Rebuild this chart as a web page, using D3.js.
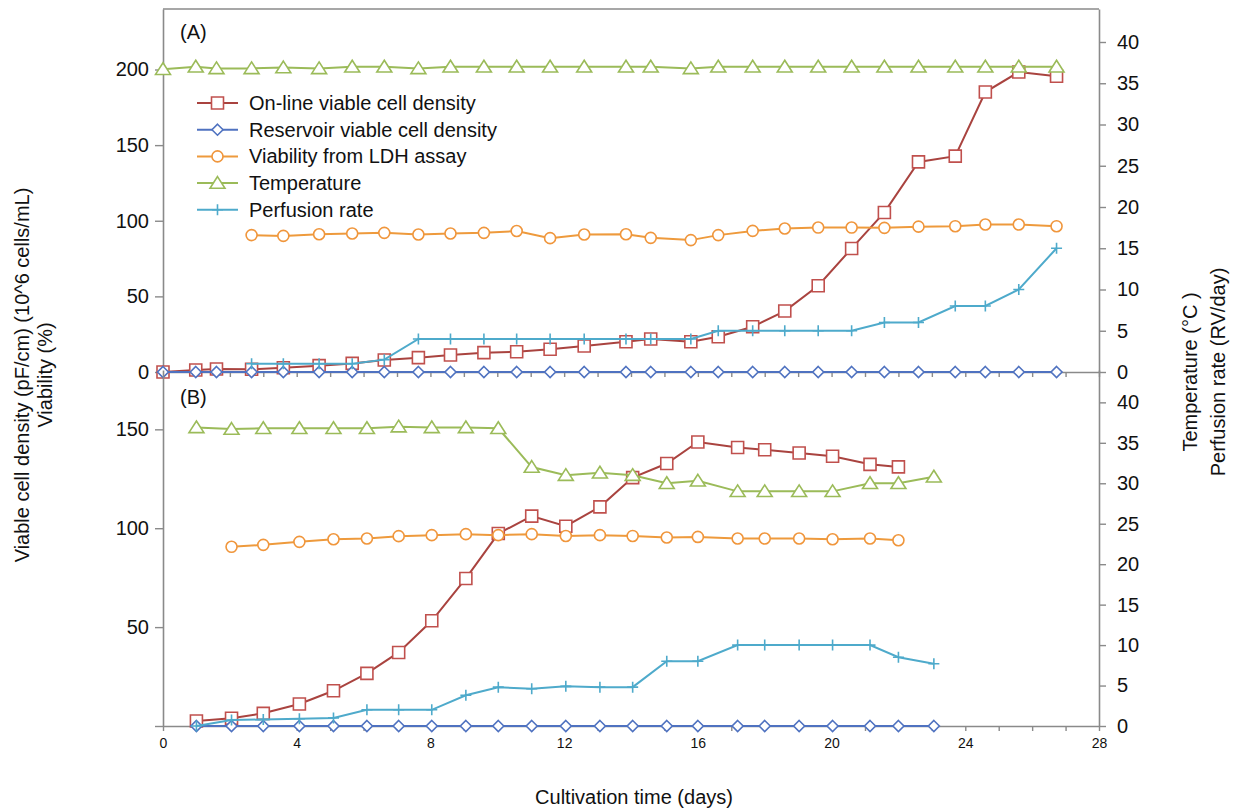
<!DOCTYPE html>
<html>
<head>
<meta charset="utf-8">
<script src="https://cdn.jsdelivr.net/npm/d3@7"></script>
<style>
  body { margin: 0; background: #fff; }
  svg { font-family: "Liberation Sans", Arial, sans-serif; }
</style>
</head>
<body>
<div id="chart"></div>
<script>
// ---- data ----
// (A) sampling days
const daysA = [0, 0.98, 1.6, 2.65, 3.6, 4.67, 5.66, 6.62, 7.64, 8.6, 9.6, 10.58, 11.58, 12.6,
  13.85, 14.59, 15.79, 16.61, 17.64, 18.6, 19.6, 20.6, 21.58, 22.6, 23.7, 24.6, 25.6, 26.73]
const daysAssayA = [2.65, 3.6, 4.67, 5.66, 6.62, 7.64, 8.6, 9.6, 10.58, 11.58, 12.6, 13.85,
  14.59, 15.79, 16.61, 17.64, 18.6, 19.6, 20.6, 21.58, 22.6, 23.7, 24.6, 25.6, 26.73]
const onlineA = [0, 1.3, 2.0, 1.8, 2.8, 4.2, 5.7, 7.9, 9.5, 11.2, 12.8, 13.4, 15.0, 17.2,
  20.0, 21.8, 20.0, 23.3, 29.9, 40.3, 57.0, 81.7, 105.5, 138.9, 142.7, 185.1, 198.3, 195.5]
const reservoirA = [0, 0, 0, 0, 0, 0, 0, 0, 0, 0, 0, 0, 0, 0, 0, 0, 0, 0, 0, 0, 0, 0, 0, 0, 0, 0, 0, 0]
const viabilityA = [90.5, 90.0, 91.1, 91.6, 92.0, 90.9, 91.6, 92.0, 93.2, 88.5, 90.9, 91.1,
  88.7, 87.2, 90.5, 93.3, 94.9, 95.5, 95.5, 95.3, 96.1, 96.4, 97.5, 97.5, 96.4]
const temperatureA = [36.7, 37.0, 36.8, 36.8, 36.9, 36.8, 37.0, 37.0, 36.8, 37.0, 37.0, 37.0, 37.0, 37.0,
  37.0, 37.0, 36.8, 37.0, 37.0, 37.0, 37.0, 37.0, 37.0, 37.0, 37.0, 37.0, 37.0, 37.0]
const perfusionA = [1, 1, 1, 1, 1.5, 4, 4, 4, 4, 4, 4, 4, 4, 4, 5, 5, 5, 5, 5, 6, 6, 8, 8, 10, 15]

// (B) sampling days
const daysB = [1, 2.05, 3, 4.08, 5.1, 6.1, 7.05, 8.04, 9.06, 10.03, 11.03, 12.05, 13.07, 14.05,
  15.07, 16, 17.19, 18, 19.03, 20.03, 21.15, 22, 23.06]
const onlineB = [2.5, 3.9, 6.4, 11.1, 17.8, 26.6, 37.2, 53.2, 74.6, 97.3, 106.1, 101.0, 110.8,
  125.6, 132.7, 143.6, 140.8, 139.7, 138.0, 136.4, 132.3, 131.0]
const reservoirB = [0, 0, 0, 0, 0, 0, 0, 0, 0, 0, 0, 0, 0, 0, 0, 0, 0, 0, 0, 0, 0, 0, 0]
const viabilityB = [90.6, 91.6, 93.1, 94.4, 94.8, 96.0, 96.5, 97.0, 96.5, 97.0, 96.1, 96.5,
  96.1, 95.3, 95.6, 94.8, 94.8, 94.8, 94.4, 94.8, 93.9]
const temperatureB = [36.9, 36.7, 36.8, 36.8, 36.8, 36.8, 37.0, 36.9, 36.9, 36.8, 32.0, 31.0,
  31.3, 31.0, 30.0, 30.3, 29.0, 29.0, 29.0, 29.0, 30.0, 30.0, 30.8]
const perfusionB = [0, 0.75, 0.8, 0.9, 1.0, 2.0, 2.0, 2.0, 3.8, 4.8, 4.6, 4.9, 4.8, 4.8, 8, 8,
  10, 10, 10, 10, 10, 8.5, 7.7]

const seriesNames = ["On-line viable cell density", "Reservoir viable cell density",
  "Viability from LDH assay", "Temperature", "Perfusion rate"]
const leftTicksA = [0, 50, 100, 150, 200]
const leftTicksB = [0, 50, 100, 150]
const rightTicks = [0, 5, 10, 15, 20, 25, 30, 35, 40]

// ---- marker shapes (size = half width) ----
const squareSym = { draw(c, s) { c.rect(-s, -s, 2 * s, 2 * s) } }
const diamondSym = { draw(c, s) { c.moveTo(0, -s); c.lineTo(s, 0); c.lineTo(0, s); c.lineTo(-s, 0); c.closePath() } }
const circleSym = { draw(c, s) { c.moveTo(s, 0); c.arc(0, 0, s, 0, 2 * Math.PI) } }
const triangleSym = { draw(c, s) { c.moveTo(0, -s); c.lineTo(s * 1.15, s * 0.8); c.lineTo(-s * 1.15, s * 0.8); c.closePath() } }
const plusSym = { draw(c, s) { c.moveTo(-s, 0); c.lineTo(s, 0); c.moveTo(0, -s); c.lineTo(0, s) } }

const styles = [
  { line: "#a9433f", mark: "#c0504d", sym: squareSym, size: 6 },
  { line: "#4f72c0", mark: "#4f72c0", sym: diamondSym, size: 5.5 },
  { line: "#ee9a3c", mark: "#f0963c", sym: circleSym, size: 5.5 },
  { line: "#9bbb59", mark: "#9bbb59", sym: triangleSym, size: 6.5 },
  { line: "#4eaacb", mark: "#4eaacb", sym: plusSym, size: 5.5 },
]

const width = 1239
const height = 810
const axisColor = "#8a8a8a"

const svg = d3.select("#chart").append("svg").attr("width", width).attr("height", height)

// shared x scale
const x = d3.scaleLinear().domain([0, 28]).range([163, 1099])

const panels = [
  {
    tag: "(A)", tagY: 39, top: 9, bottom: 372, leftMax: 240, leftTicks: leftTicksA, showZero: true, xLabels: false,
    series: [
      { xs: daysA, ys: onlineA, right: false },
      { xs: daysA, ys: reservoirA, right: false },
      { xs: daysAssayA, ys: viabilityA, right: false },
      { xs: daysA, ys: temperatureA, right: true },
      { xs: daysAssayA, ys: perfusionA, right: true },
    ],
  },
  {
    tag: "(B)", tagY: 404, top: 370, bottom: 726, leftMax: 180, leftTicks: leftTicksB, showZero: false, xLabels: true,
    series: [
      { xs: daysB.slice(0, 22), ys: onlineB, right: false },
      { xs: daysB, ys: reservoirB, right: false },
      { xs: daysB.slice(1, 22), ys: viabilityB, right: false },
      { xs: daysB, ys: temperatureB, right: true },
      { xs: daysB, ys: perfusionB, right: true },
    ],
  },
]

function styleAxis(g) {
  g.select(".domain").attr("stroke", axisColor).attr("stroke-width", 1.6)
  g.selectAll(".tick line").attr("stroke", axisColor).attr("stroke-width", 1.4)
  g.selectAll(".tick text").attr("fill", "#111")
}

panels.forEach((p) => {
  const yL = d3.scaleLinear().domain([0, p.leftMax]).range([p.bottom, p.top])
  const yR = d3.scaleLinear().domain([0, 44]).range([p.bottom, p.top])

  // axes
  svg.append("g")
    .attr("transform", `translate(${x.range()[0]},0)`)
    .call(d3.axisLeft(yL).tickValues(p.leftTicks).tickSize(8).tickSizeOuter(0).tickPadding(6)
      .tickFormat((d) => (d === 0 && !p.showZero ? "" : d)))
    .call(styleAxis)
    .selectAll(".tick text").attr("font-size", 20)

  svg.append("g")
    .attr("transform", `translate(${x.range()[1]},0)`)
    .call(d3.axisRight(yR).tickValues(rightTicks).tickSize(7).tickSizeOuter(0).tickPadding(11))
    .call(styleAxis)
    .selectAll(".tick text").attr("font-size", 20)

  svg.append("g")
    .attr("transform", `translate(0,${p.bottom})`)
    .call(d3.axisBottom(x).tickValues(d3.range(0, 29)).tickSize(5).tickSizeOuter(0).tickPadding(7)
      .tickFormat((d) => (p.xLabels && d % 4 === 0 ? d : "")))
    .call(styleAxis)
    .selectAll(".tick text").attr("font-size", 14)

  if (p.tag === "(A)") {
    svg.append("line")
      .attr("x1", x.range()[0]).attr("x2", x.range()[1])
      .attr("y1", p.top).attr("y2", p.top)
      .attr("stroke", axisColor).attr("stroke-width", 1.6)
  }

  svg.append("text")
    .attr("x", 180).attr("y", p.tagY)
    .attr("font-size", 20).attr("fill", "#111")
    .text(p.tag)

  // lines then markers, series in Excel order
  p.series.forEach((s, i) => {
    const st = styles[i]
    const y = s.right ? yR : yL
    const pts = s.xs.map((d, k) => [x(d), y(s.ys[k])])
    svg.append("path")
      .attr("d", d3.line()(pts))
      .attr("fill", "none")
      .attr("stroke", st.line)
      .attr("stroke-width", 2)
    svg.append("g").selectAll("path")
      .data(pts)
      .enter()
      .append("path")
      .attr("transform", (d) => `translate(${d[0]},${d[1]})`)
      .attr("d", d3.symbol().type(st.sym).size(st.size))
      .attr("fill", i === 4 ? "none" : "#fff")
      .attr("stroke", st.mark)
      .attr("stroke-width", 1.6)
  })
})

// legend
const legend = svg.append("g").attr("transform", "translate(197,103)")
seriesNames.forEach((name, i) => {
  const st = styles[i]
  const row = legend.append("g").attr("transform", `translate(0,${i * 26.7})`)
  row.append("line").attr("x1", 0).attr("x2", 41).attr("y1", 0).attr("y2", 0)
    .attr("stroke", st.line).attr("stroke-width", 2)
  row.append("path")
    .attr("transform", "translate(20.5,0)")
    .attr("d", d3.symbol().type(st.sym).size(st.size))
    .attr("fill", i === 4 ? "none" : "#fff")
    .attr("stroke", st.mark).attr("stroke-width", 1.6)
  row.append("text")
    .attr("x", 52).attr("y", 0).attr("dy", "0.35em")
    .attr("font-size", 20).attr("fill", "#111")
    .text(name)
})

// axis titles
svg.append("text")
  .attr("x", 634).attr("y", 804)
  .attr("text-anchor", "middle").attr("font-size", 20).attr("fill", "#111")
  .text("Cultivation time (days)")

const leftTitle = svg.append("g").attr("transform", "translate(0,375) rotate(-90)")
leftTitle.append("text").attr("x", 0).attr("y", 29)
  .attr("text-anchor", "middle").attr("font-size", 20).attr("fill", "#111")
  .text("Viable cell density (pF/cm) (10^6 cells/mL)")
leftTitle.append("text").attr("x", 0).attr("y", 52)
  .attr("text-anchor", "middle").attr("font-size", 20).attr("fill", "#111")
  .text("Viability (%)")

const rightTitle = svg.append("g").attr("transform", "translate(1239,372) rotate(-90)")
rightTitle.append("text").attr("x", 0).attr("y", -42)
  .attr("text-anchor", "middle").attr("font-size", 20).attr("fill", "#111")
  .text("Temperature (°C )")
rightTitle.append("text").attr("x", 0).attr("y", -14)
  .attr("text-anchor", "middle").attr("font-size", 20).attr("fill", "#111")
  .text("Perfusion rate (RV/day)")
</script>
</body>
</html>
